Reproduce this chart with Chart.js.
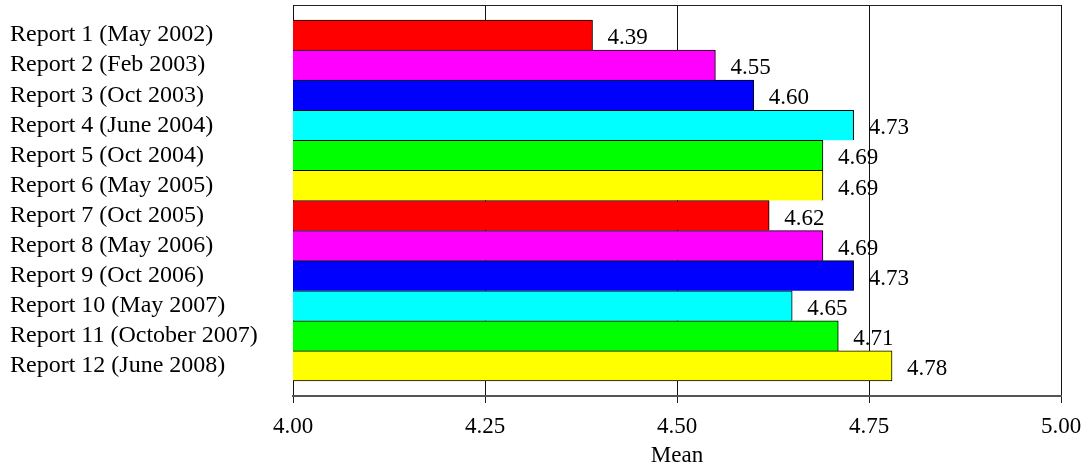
<!DOCTYPE html>
<html>
<head>
<meta charset="utf-8">
<script src="https://cdn.jsdelivr.net/npm/chart.js@4/dist/chart.umd.min.js"></script>
<style>
  html, body { margin: 0; padding: 0; background: #fff; }
  #wrap { width: 1082px; height: 467px; }
</style>
</head>
<body>
<div id="wrap"><canvas id="meanChart" width="1082" height="467"></canvas></div>
<script>
// report labels and mean scores
var categories = [
    'Report 1 (May 2002)', 'Report 2 (Feb 2003)', 'Report 3 (Oct 2003)',
    'Report 4 (June 2004)', 'Report 5 (Oct 2004)', 'Report 6 (May 2005)',
    'Report 7 (Oct 2005)', 'Report 8 (May 2006)', 'Report 9 (Oct 2006)',
    'Report 10 (May 2007)', 'Report 11 (October 2007)', 'Report 12 (June 2008)'
];
var means = [4.39, 4.55, 4.60, 4.73, 4.69, 4.69, 4.62, 4.69, 4.73, 4.65, 4.71, 4.78];
var xTicks = [4.00, 4.25, 4.50, 4.75, 5.00];
var barColors = ['#ff0000', '#ff00ff', '#0000ff', '#00ffff', '#00ff00', '#ffff00',
                 '#ff0000', '#ff00ff', '#0000ff', '#00ffff', '#00ff00', '#ffff00'];

var serif = '"Liberation Serif", "Times New Roman", serif';

// value labels to the right of each bar
var valueLabels = {
    id: 'valueLabels',
    afterDatasetsDraw: function (chart) {
        var ctx = chart.ctx;
        var meta = chart.getDatasetMeta(0);
        ctx.save();
        ctx.font = '23px ' + serif;
        ctx.fillStyle = '#000';
        ctx.textAlign = 'left';
        ctx.textBaseline = 'middle';
        meta.data.forEach(function (bar, i) {
            ctx.fillText(means[i].toFixed(2), bar.x + 15, bar.y + 3);
        });
        ctx.restore();
    },
    afterDraw: function (chart) {
        var a = chart.chartArea;
        var ctx = chart.ctx;
        ctx.save();
        ctx.strokeStyle = '#222';
        ctx.lineWidth = 1;
        ctx.beginPath();
        ctx.moveTo(a.left, Math.round(a.top) + 0.5);
        ctx.lineTo(a.right, Math.round(a.top) + 0.5);
        ctx.stroke();
        ctx.restore();
    }
};

var ctx = document.getElementById('meanChart').getContext('2d');
var chart = new Chart(ctx, {
    type: 'bar',
    data: {
        datasets: [{
            data: means.map(function (v, i) { return {x: v, y: i}; }),
            backgroundColor: barColors,
            borderColor: '#000',
            borderSkipped: false,
            borderWidth: function (c) {
                return {left: 1, right: 1, top: 1, bottom: c.dataIndex === means.length - 1 ? 1 : 0};
            },
            barPercentage: 1,
            categoryPercentage: 1
        }]
    },
    options: {
        indexAxis: 'y',
        responsive: false,
        animation: false,
        events: [],
        layout: {padding: {top: 5, right: 21, left: 10, bottom: 0}},
        plugins: {legend: {display: false}, tooltip: {enabled: false}},
        scales: {
            x: {
                type: 'linear',
                min: 4,
                max: 5,
                afterBuildTicks: function (scale) {
                    scale.ticks = xTicks.map(function (v) { return {value: v}; });
                },
                afterFit: function (scale) {
                    scale.height = 71;
                    scale.paddingLeft = 0;
                    scale.paddingRight = 0;
                },
                grid: {color: '#111', lineWidth: 1, tickLength: 7, tickColor: '#222'},
                border: {color: '#555', width: 2},
                ticks: {
                    color: '#000',
                    padding: 10,
                    maxRotation: 0,
                    font: {family: serif, size: 23},
                    callback: function (v) { return Number(v).toFixed(2); }
                },
                title: {
                    display: true,
                    text: 'Mean',
                    color: '#000',
                    padding: {top: 0, bottom: 0},
                    font: {family: serif, size: 23, lineHeight: 1}
                }
            },
            y: {
                type: 'linear',
                min: -1,
                max: categories.length,
                reverse: true,
                offset: false,
                afterBuildTicks: function (scale) {
                    scale.ticks = categories.map(function (c, i) { return {value: i}; });
                },
                afterFit: function (scale) {
                    scale.width = 283;
                    scale.paddingTop = 0;
                    scale.paddingBottom = 0;
                },
                grid: {display: false, offset: false},
                border: {display: false},
                ticks: {
                    color: '#000',
                    crossAlign: 'far',
                    autoSkip: false,
                    font: {family: serif, size: 24},
                    callback: function (v) { return categories[v]; }
                }
            }
        }
    },
    plugins: [valueLabels]
});
</script>
</body>
</html>
